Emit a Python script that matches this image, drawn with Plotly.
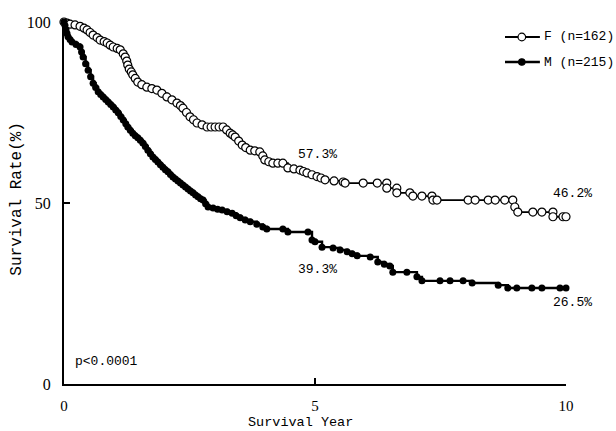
import plotly.graph_objects as go

# Female (F, n=162) Kaplan-Meier points: years, survival %
f_years = [0.00, 0.06, 0.12, 0.22, 0.32, 0.40, 0.46, 0.52, 0.58, 0.66, 0.72, 0.80, 0.86, 0.92, 0.98, 1.06,
           1.12, 1.18, 1.22, 1.25, 1.27, 1.30, 1.34, 1.37, 1.42, 1.47, 1.55, 1.65, 1.75, 1.85, 1.95, 2.05,
           2.15, 2.25, 2.32, 2.37, 2.44, 2.51, 2.58, 2.65, 2.75, 2.85, 2.93, 3.01, 3.09, 3.17, 3.24, 3.31,
           3.36, 3.41, 3.48, 3.55, 3.62, 3.71, 3.80, 3.90, 3.96, 4.00, 4.08, 4.16, 4.26, 4.36, 4.46, 4.58,
           4.70, 4.77, 4.84, 4.94, 5.04, 5.12, 5.20, 5.38, 5.56, 5.60, 5.96, 6.24, 6.43, 6.43, 6.63, 6.63,
           6.89, 6.95, 7.13, 7.33, 7.35, 7.43, 8.05, 8.19, 8.45, 8.59, 8.78, 8.94, 8.98, 9.04, 9.34, 9.52,
           9.74, 9.74, 9.94, 10.0]
f_surv = [100.0, 99.7, 99.4, 99.2, 98.8, 98.3, 97.8, 97.1, 96.4, 95.7, 95.0, 94.6, 94.2, 93.6, 93.1, 92.7,
          92.3, 91.2, 90.3, 89.2, 88.1, 87.0, 86.2, 85.4, 84.4, 83.4, 82.7, 82.0, 81.6, 81.2, 80.3, 79.3,
          78.5, 77.6, 76.9, 76.2, 75.0, 73.8, 73.0, 72.1, 71.6, 71.0, 71.0, 71.0, 71.0, 71.0, 70.2, 69.3,
          68.8, 68.2, 67.1, 66.0, 65.3, 64.6, 64.4, 64.1, 63.0, 61.9, 61.4, 61.0, 61.0, 61.0, 59.7, 59.4,
          59.1, 58.7, 58.3, 57.8, 57.3, 56.9, 56.4, 56.1, 55.8, 55.5, 55.5, 55.5, 55.5, 54.1, 54.1, 52.8,
          52.8, 51.9, 51.9, 51.9, 50.8, 50.8, 50.8, 50.8, 50.8, 50.8, 50.8, 50.8, 48.9, 47.5, 47.5, 47.5,
          47.5, 46.2, 46.2, 46.2]

# Male (M, n=215) Kaplan-Meier points: years, survival %
m_years = [0.00, 0.02, 0.04, 0.06, 0.08, 0.12, 0.16, 0.24, 0.32, 0.35, 0.38, 0.43, 0.48, 0.53, 0.58, 0.63,
           0.68, 0.73, 0.78, 0.83, 0.88, 0.93, 0.98, 1.03, 1.08, 1.13, 1.18, 1.23, 1.27, 1.32, 1.37, 1.42,
           1.47, 1.52, 1.57, 1.62, 1.67, 1.72, 1.77, 1.82, 1.87, 1.92, 1.97, 2.02, 2.07, 2.12, 2.17, 2.22,
           2.27, 2.32, 2.37, 2.42, 2.47, 2.52, 2.57, 2.62, 2.67, 2.72, 2.77, 2.82, 2.87, 2.97, 3.06, 3.15,
           3.25, 3.35, 3.43, 3.51, 3.61, 3.71, 3.84, 3.96, 4.04, 4.36, 4.46, 4.86, 4.94, 5.00, 5.14, 5.36,
           5.50, 5.64, 5.74, 5.84, 6.10, 6.25, 6.38, 6.49, 6.55, 6.83, 7.03, 7.13, 7.49, 7.69, 7.95, 8.13,
           8.65, 8.84, 9.02, 9.32, 9.52, 9.88, 10.0]
m_surv = [100.0, 99.0, 97.8, 96.8, 95.9, 95.2, 94.5, 93.8, 93.1, 91.7, 90.3, 88.5, 86.7, 84.9, 83.1, 81.9,
          80.7, 80.0, 79.3, 78.6, 77.9, 77.2, 76.5, 75.7, 74.9, 73.9, 72.9, 71.9, 71.0, 70.1, 69.3, 68.6,
          68.0, 67.3, 66.6, 65.6, 64.6, 63.6, 62.7, 62.0, 61.3, 60.6, 59.9, 59.2, 58.6, 57.9, 57.2, 56.6,
          56.1, 55.5, 55.0, 54.4, 53.9, 53.3, 52.8, 52.2, 51.7, 51.2, 50.8, 49.8, 48.9, 48.6, 48.3, 48.1,
          47.6, 47.2, 46.5, 45.9, 45.3, 44.8, 44.1, 43.4, 42.8, 42.8, 42.0, 42.0, 39.8, 39.3, 37.8, 37.6,
          37.0, 36.5, 36.0, 35.4, 35.1, 33.7, 33.1, 32.6, 30.9, 30.9, 29.6, 28.5, 28.5, 28.5, 28.5, 27.9,
          27.3, 26.5, 26.5, 26.5, 26.5, 26.5, 26.5]

labels = ["F (n=162)", "M (n=215)"]
x_ticks = [0, 5, 10]
y_ticks = [0, 50, 100]
x_title = "Survival Year"
y_title = "Survival Rate(%)"

mono = "Liberation Mono, DejaVu Sans Mono, monospace"
serif = "Liberation Serif, DejaVu Serif, serif"

fig = go.Figure()
fig.add_trace(go.Scatter(
    x=f_years, y=f_surv, mode="lines+markers", name=labels[0], line_shape="hv",
    line=dict(color="black", width=1.8),
    marker=dict(symbol="circle", size=8, color="white", line=dict(color="black", width=1.2)),
    cliponaxis=False, showlegend=False,
))
fig.add_trace(go.Scatter(
    x=m_years, y=m_surv, mode="lines+markers", name=labels[1], line_shape="hv",
    line=dict(color="black", width=2.4),
    marker=dict(symbol="circle", size=7, color="black"),
    cliponaxis=False, showlegend=False,
))

ann_font = dict(family=mono, size=13, color="black")
# (xref, x, y, text)
annots = [
    ("x", 5.04, 63.5, "57.3%"),
    ("paper", 1.012, 52.5, "46.2%"),
    ("x", 5.04, 31.5, "39.3%"),
    ("paper", 1.012, 22.4, "26.5%"),
]
for xr, ax, ay, t in annots:
    fig.add_annotation(xref=xr, x=ax, y=ay, yref="y", text=t, showarrow=False,
                       xanchor="center", yanchor="middle", font=ann_font)
fig.add_annotation(x=0.18, y=6.1, text="p<0.0001", showarrow=False, xanchor="left",
                   yanchor="middle", font=dict(family=mono, size=13, color="black"))

# Axis titles as annotations (positioned as in the reference)
fig.add_annotation(xref="paper", yref="paper", x=0.472, y=-0.106, text=x_title, showarrow=False,
                   xanchor="center", yanchor="middle", font=dict(family=mono, size=13.5, color="black"))
fig.add_annotation(xref="paper", yref="paper", x=-0.0936, y=0.512, text=y_title, showarrow=False,
                   textangle=-90, xanchor="center", yanchor="middle",
                   font=dict(family=mono, size=16, color="black"))

# Hand-drawn legend (paper coordinates) so it doesn't push the plot margins
leg_rows = [0.9586, 0.8895]
leg_x0, leg_x1, leg_xc, leg_tx = 0.8785, 0.948, 0.912, 0.952
for i, (lab, yy) in enumerate(zip(labels, leg_rows)):
    fig.add_shape(type="line", xref="paper", yref="paper", x0=leg_x0, x1=leg_x1, y0=yy, y1=yy,
                  line=dict(color="black", width=1.8 if i == 0 else 2.4))
    r = 3.8 if i == 0 else 3.2
    fig.add_shape(type="circle", xref="paper", yref="paper", xsizemode="pixel", ysizemode="pixel",
                  xanchor=leg_xc, yanchor=yy, x0=-r, x1=r, y0=-r, y1=r,
                  fillcolor="white" if i == 0 else "black",
                  line=dict(color="black", width=1.2))
    fig.add_annotation(xref="paper", yref="paper", x=leg_tx, y=yy, text=lab, showarrow=False,
                       xanchor="left", yanchor="middle", font=dict(family=mono, size=13, color="black"))

fig.update_layout(
    width=616, height=431,
    margin=dict(l=64, r=50, t=22, b=47),
    paper_bgcolor="white", plot_bgcolor="white",
    showlegend=False,
    xaxis=dict(range=[0, 10], tickvals=x_ticks, ticktext=[str(v) for v in x_ticks],
               showline=True, linecolor="black", linewidth=2, showgrid=False, zeroline=False,
               automargin=False,
               ticks="inside", ticklen=6, tickwidth=2, tickcolor="black",
               tickfont=dict(family=serif, size=15, color="black"), ticklabelstandoff=7),
    yaxis=dict(range=[0, 100], tickvals=y_ticks, ticktext=[str(v) for v in y_ticks],
               showline=True, linecolor="black", linewidth=2, showgrid=False, zeroline=False,
               automargin=False,
               ticks="inside", ticklen=6, tickwidth=2, tickcolor="black",
               tickfont=dict(family=serif, size=16, color="black"), ticklabelstandoff=8),
)

fig.write_html("out.html")
